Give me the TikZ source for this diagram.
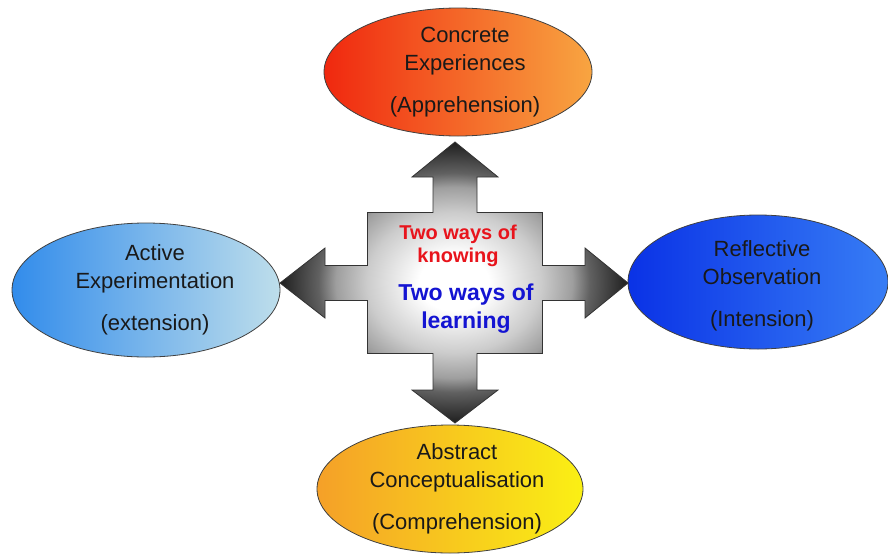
\documentclass[tikz,border=0pt]{standalone}
\usepackage{fontspec}
\setmainfont{Liberation Sans}
\usepackage{tikz}
\usepackage{xcolor}
\usetikzlibrary{shapes.geometric}

\definecolor{ceLeft}{RGB}{240,40,15}
\definecolor{ceRight}{RGB}{248,165,65}
\definecolor{aeLeft}{RGB}{50,140,235}
\definecolor{aeRight}{RGB}{190,222,235}
\definecolor{roLeft}{RGB}{10,50,230}
\definecolor{roRight}{RGB}{55,125,245}
\definecolor{acLeft}{RGB}{245,160,40}
\definecolor{acRight}{RGB}{250,240,20}
\definecolor{knowRed}{RGB}{232,20,28}
\definecolor{learnBlue}{RGB}{20,20,210}

\pgfdeclareradialshading{crossglow}{\pgfpoint{0bp}{0bp}}{color(0bp)=(white);
  color(5bp)=(white); color(12.5bp)=(black!20); color(17bp)=(black!38);
  color(19.5bp)=(black!62); color(25bp)=(black!88); color(50bp)=(black!88)}

\begin{document}
\begin{tikzpicture}[x=1pt, y=-1pt,
    every node/.style = {align=center},
    mode/.style = {shape=ellipse, draw=black!75, line width=0.8pt,
      inner sep=0pt},
    modetext/.style = {text=black!90, font=\fontsize{22}{28}\selectfont}]
  \useasboundingbox (0,0) rectangle (888,554);

  % the four modes
  \node[mode, minimum width=268pt, minimum height=128pt,
    left color=ceLeft, right color=ceRight] (ce) at (458,72) {};
  \node[mode, minimum width=268pt, minimum height=134pt,
    left color=aeLeft, right color=aeRight] (ae) at (146,290) {};
  \node[mode, minimum width=260pt, minimum height=134pt,
    left color=roLeft, right color=roRight] (ro) at (758,282) {};
  \node[mode, minimum width=266pt, minimum height=128pt,
    left color=acLeft, right color=acRight] (ac) at (450,489) {};

  \node[modetext] (ceText) at ([xshift=7pt]ce.center)
    {Concrete\\Experiences\\[14pt](Apprehension)};
  \node[modetext] (aeText) at ([xshift=9pt]ae.center)
    {Active\\Experimentation\\[14pt](extension)};
  \node[modetext] (roText) at ([xshift=4pt,yshift=-4pt]ro.center)
    {Reflective\\Observation\\[14pt](Intension)};
  \node[modetext] (acText) at ([xshift=7pt]ac.center)
    {Abstract\\Conceptualisation\\[14pt](Comprehension)};

  % central cross
  \shadedraw[draw=black!80, line width=0.8pt, shading=crossglow,
    shift={(455,283)}]
    (-22,-70.5) -- (-22,-106) -- (-43,-106) -- (0,-141) -- (43,-106)
    -- (22,-106) -- (22,-70.5) -- (87.5,-70.5) -- (87.5,-17.5)
    -- (130,-17.5) -- (130,-35) -- (173,0) -- (130,35) -- (130,17.5)
    -- (87.5,17.5) -- (87.5,70.5) -- (22,70.5) -- (22,107) -- (43,107)
    -- (0,140) -- (-43,107) -- (-22,107) -- (-22,70.5) -- (-87.5,70.5)
    -- (-87.5,17.5) -- (-130,17.5) -- (-130,35) -- (-175,0)
    -- (-130,-35) -- (-130,-17.5) -- (-87.5,-17.5) -- (-87.5,-70.5)
    -- cycle;

  \node[text=knowRed, font=\bfseries\fontsize{20}{23}\selectfont]
    (know) at (458,246) {Two ways of\\knowing};
  \node[text=learnBlue, font=\bfseries\fontsize{23}{28}\selectfont]
    (learn) at (466,309) {Two ways of\\learning};
\end{tikzpicture}
\end{document}
